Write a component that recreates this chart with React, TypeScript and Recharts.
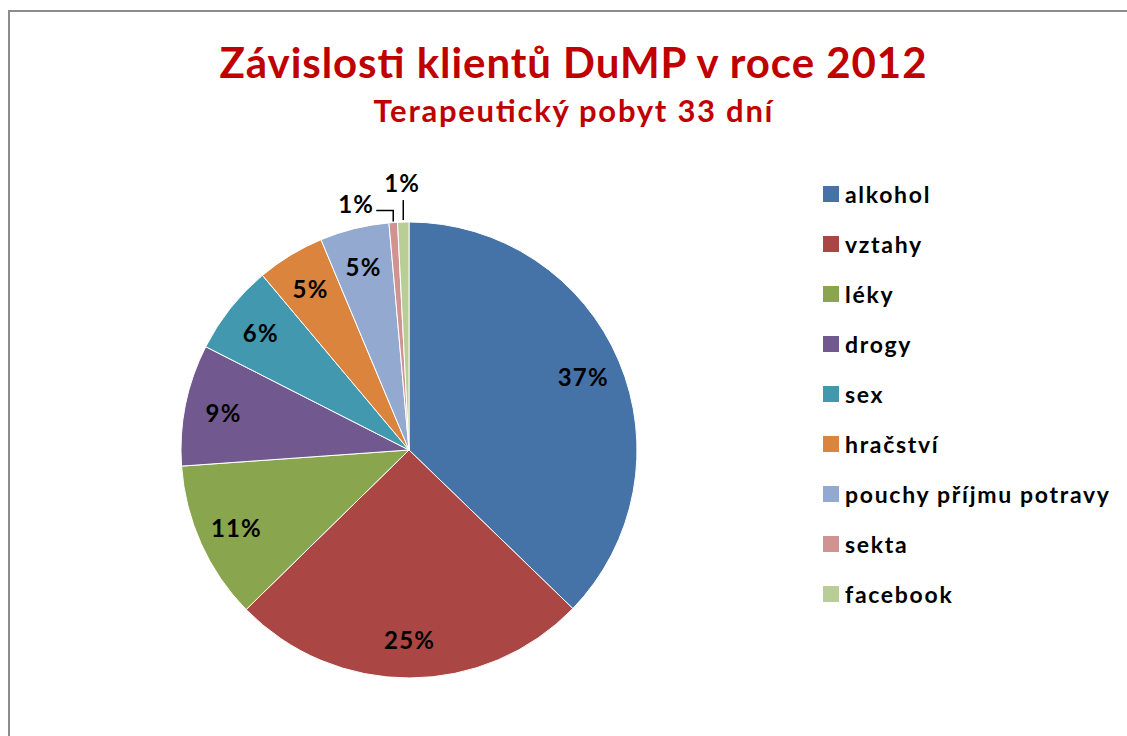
import React from "react";
import { PieChart, Pie, Cell, Legend } from "recharts";

const categories = ["alkohol", "vztahy", "léky", "drogy", "sex", "hračství", "pouchy příjmu potravy", "sekta", "facebook"];
const values = [37.2, 25.4, 11.2, 8.6, 6.4, 4.8, 4.9, 0.6, 0.8];
const colors = ["#4572A7", "#AA4643", "#89A54E", "#71588F", "#4198AF", "#DB843D", "#93A9CF", "#D19392", "#B9CD96"];
const titleText = "Závislosti klientů DuMP v roce 2012";
const subtitleText = "Terapeutický pobyt 33 dní";

const data = categories.map((name, i) => ({ name, value: values[i] }));

const FONT = "Lato, 'Open Sans', sans-serif";
const RADIAN = Math.PI / 180;

const labelStyle = { fontFamily: FONT, fontWeight: 700, fontSize: 24, fill: "#000", letterSpacing: 1.2 } as const;

const renderLabel = (props: any) => {
  const { cx, cy, midAngle, outerRadius, percent, index } = props;
  const txt = `${Math.round(percent * 100)}%`;
  if (percent >= 0.02) {
    const r = outerRadius * 0.83;
    const x = cx + r * Math.cos(-midAngle * RADIAN);
    const y = cy + r * Math.sin(-midAngle * RADIAN);
    return (
      <text x={x} y={y} textAnchor="middle" dominantBaseline="central" style={labelStyle}>
        {txt}
      </text>
    );
  }
  const ex = cx + outerRadius * Math.cos(-midAngle * RADIAN);
  const ey = cy + outerRadius * Math.sin(-midAngle * RADIAN);
  if (index === categories.length - 2) {
    return (
      <g>
        <polyline points={`${ex},${ey - 1} ${ex},${ey - 12} ${ex - 17},${ey - 12}`} fill="none" stroke="#000" strokeWidth={1.5} />
        <text x={ex - 19} y={ey - 19} textAnchor="end" dominantBaseline="central" style={labelStyle}>
          {txt}
        </text>
      </g>
    );
  }
  return (
    <g>
      <line x1={ex} y1={ey - 2} x2={ex} y2={ey - 22} stroke="#000" strokeWidth={1.5} />
      <text x={ex - 1} y={ey - 40} textAnchor="middle" dominantBaseline="central" style={labelStyle}>
        {txt}
      </text>
    </g>
  );
};

const renderLegend = () => (
  <div>
    {categories.map((name, i) => (
      <div key={name} style={{ display: "flex", alignItems: "center", height: 50 }}>
        <div style={{ width: 16, height: 16, background: colors[i], marginRight: 6, flexShrink: 0 }} />
        <span style={{ fontFamily: FONT, fontWeight: 700, fontSize: 23, letterSpacing: 1.7, color: "#000", whiteSpace: "nowrap" }}>{name}</span>
      </div>
    ))}
  </div>
);

export default function App() {
  return (
    <div style={{ position: "absolute", left: 0, top: 0, width: 1127, height: 736, overflow: "hidden", background: "#fff" }}>
      <div style={{ position: "absolute", left: 0, top: -14, fontFamily: "'Liberation Serif', serif", fontSize: 16 }}>Graf 1</div>
      <div style={{ position: "absolute", left: 8, top: 10, width: 1140, height: 760, border: "2px solid #8c8c8c" }} />
      <div style={{ position: "absolute", left: 0, top: 0 }}>
        <PieChart width={1127} height={736} margin={{ top: 0, right: 0, bottom: 0, left: 0 }}>
          <text x={573} y={78} textAnchor="middle" textLength={707} lengthAdjust="spacing" fontFamily={FONT} fontWeight={700} fontSize={42} fill="#C00000">
            {titleText}
          </text>
          <text x={573} y={122} textAnchor="middle" textLength={399} lengthAdjust="spacing" style={{ fontFamily: FONT, fontWeight: 700, fontSize: 31, fill: "#C00000" }}>
            {subtitleText}
          </text>
          <Pie
            data={data}
            dataKey="value"
            nameKey="name"
            cx={409}
            cy={450}
            outerRadius={228}
            startAngle={90}
            endAngle={-270}
            stroke="#fff"
            strokeWidth={1}
            label={renderLabel}
            labelLine={false}
            isAnimationActive={false}
          >
            {data.map((d, i) => (
              <Cell key={d.name} fill={colors[i]} />
            ))}
          </Pie>
          <Legend
            layout="vertical"
            content={renderLegend}
            wrapperStyle={{ position: "absolute", left: 823, top: 169, width: 300 }}
          />
        </PieChart>
      </div>
    </div>
  );
}
